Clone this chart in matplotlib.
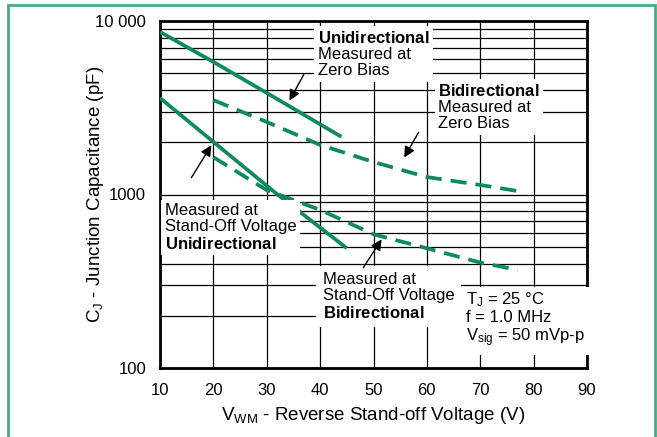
import matplotlib.pyplot as plt
import matplotlib.patches as mpatches

plt.rcParams['font.family'] = ['Liberation Sans', 'DejaVu Sans']
plt.rcParams['mathtext.fontset'] = 'custom'
plt.rcParams['mathtext.rm'] = 'Liberation Sans'
plt.rcParams['mathtext.it'] = 'Liberation Sans:italic'
plt.rcParams['mathtext.bf'] = 'Liberation Sans:bold'
plt.rcParams['mathtext.default'] = 'regular'

# curves (V, pF)
uni_zero_v = [10, 20, 30, 44]
uni_zero_c = [8650, 5810, 3850, 2150]
uni_so_v = [10, 20, 32, 45]
uni_so_c = [3600, 2010, 1000, 490]
bi_zero_v = [20, 30, 40, 50, 60, 70, 78]
bi_zero_c = [3500, 2620, 1930, 1540, 1260, 1135, 1035]
bi_so_v = [20, 30, 40, 50, 60, 70, 77]
bi_so_c = [1640, 1060, 815, 590, 490, 405, 368]

x_ticks = [10, 20, 30, 40, 50, 60, 70, 80, 90]
y_ticks = [100, 1000, 10000]
y_tick_labels = ['100', '1000', '10 000']

green = '#0e8a5e'

fig = plt.figure(figsize=(6.57, 4.37), dpi=100)
ax = fig.add_axes([160/657, 1-368/437, 427/657, 347/437])

ax.set_yscale('log')
ax.set_xlim(10, 90)
ax.set_ylim(100, 10000)
ax.set_xticks(x_ticks)
ax.set_yticks(y_ticks)
ax.set_yticklabels(y_tick_labels)
ax.tick_params(which='both', length=0, labelsize=12)
ax.tick_params(axis='y', pad=10)
ax.tick_params(axis='x', pad=11)
ax.grid(True, which='major', color='black', lw=0.9)
ax.grid(True, which='minor', axis='y', color='black', lw=0.9)
ax.set_axisbelow(True)
for s in ax.spines.values():
    s.set_linewidth(2)

ax.plot(uni_zero_v, uni_zero_c, color=green, lw=2.7, solid_capstyle='butt', zorder=3)
ax.plot(uni_so_v, uni_so_c, color=green, lw=2.7, solid_capstyle='butt', zorder=3)
ax.plot(bi_zero_v, bi_zero_c, color=green, lw=2.7, dashes=(4.3, 2.4), zorder=3)
ax.plot(bi_so_v, bi_so_c, color=green, lw=2.7, dashes=(4.3, 2.4), zorder=3)

box = dict(facecolor='white', edgecolor='none', pad=2.5)
kw = dict(fontsize=12, ha='left', va='top', linespacing=1.1, bbox=box, zorder=5)
ax.text(39.6, 8900, '$\\bf{Unidirectional}$\nMeasured at\nZero Bias', **kw)
ax.text(62.1, 4400, '$\\bf{Bidirectional}$\nMeasured at\nZero Bias', **kw)
ax.text(10.9, 890, 'Measured at\nStand-Off Voltage\n$\\bf{Unidirectional}$', **kw)
kw_wide = dict(kw, bbox=dict(facecolor='white', edgecolor='none', pad=4.5))
ax.text(40.5, 357, 'Measured at\nStand-Off Voltage\n$\\bf{Bidirectional}$', **kw_wide)
ax.text(67.3, 282, '$T_J$ = 25 °C\nf = 1.0 MHz\n$V_{sig}$ = 50 mVp-p', **kw_wide)

arrow = dict(arrowstyle='-|>', color='black', lw=1, mutation_scale=16)
ax.annotate('', xy=(34.0, 3365), xytext=(37.2, 5080), arrowprops=arrow, zorder=6)
ax.annotate('', xy=(55.5, 1582), xytext=(58.7, 2355), arrowprops=arrow, zorder=6)
ax.annotate('', xy=(19.9, 1983), xytext=(15.6, 1212), arrowprops=arrow, zorder=6)
ax.annotate('', xy=(51.8, 569), xytext=(47.8, 367), arrowprops=arrow, zorder=6)

ax.set_xlabel('$V_{WM}$ - Reverse Stand-off Voltage (V)', fontsize=13.5, va='center')
ax.xaxis.set_label_coords(0.5, (368-415)/347)
ax.set_ylabel('$C_J$ - Junction Capacitance (pF)', fontsize=13.5, va='center')
ax.yaxis.set_label_coords((95-160)/427, 0.5)

fig.patches.append(mpatches.Rectangle((8/657, -0.02), 647/657, 1.02-5/437,
                                      transform=fig.transFigure, fill=False,
                                      edgecolor='#4aaa80', lw=2))

fig.savefig('out.png', dpi=100)
